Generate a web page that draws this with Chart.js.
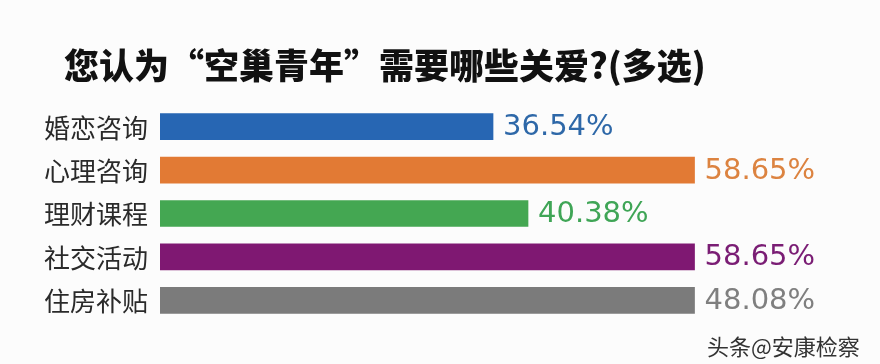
<!DOCTYPE html>
<html><head><meta charset="utf-8">
<script src="https://cdn.jsdelivr.net/npm/chart.js@4.4.1/dist/chart.umd.min.js"></script>
<style>html,body{margin:0;padding:0;background:#fcfcfc;}#wrap{width:880px;height:364px;}</style>
</head><body><div id="wrap"><canvas id="c" width="880" height="364"></canvas></div>
<script>
const titleText = '您认为“空巢青年”需要哪些关爱?(多选)';
const categories = ['婚恋咨询', '心理咨询', '理财课程', '社交活动', '住房补贴'];
// percentages printed next to the bars
const percentages = [36.54, 58.65, 40.38, 58.65, 48.08];
// bar lengths as drawn in the picture (the grey bar is drawn as long as the 58.65% bars)
const barLengths = [36.54, 58.65, 40.38, 58.65, 58.65];
const barColors = ['#2766b3', '#e27a34', '#44a752', '#7f1872', '#7b7b7b'];
const textColors = ['#2e68a8', '#dc8340', '#3fa556', '#7a1d74', '#7f7f7f'];
const watermark = '头条@安康检察';

const textPlugin = {
  id: 'texts',
  afterDraw(chart) {
    const ctx = chart.ctx;
    const meta = chart.getDatasetMeta(0);
    ctx.save();
    // title
    ctx.fillStyle = '#111';
    ctx.textBaseline = 'middle';
    ctx.textAlign = 'left';
    ctx.font = '900 35px "Noto Sans CJK SC"';
    ctx.fillText(titleText, 64, 66);
    // category labels
    ctx.font = '26px "Noto Sans CJK SC"';
    ctx.fillStyle = '#2a2a2a';
    ctx.textAlign = 'right';
    meta.data.forEach((bar, i) => {
      ctx.fillText(categories[i], 148, bar.y + 1);
    });
    // value labels
    ctx.textAlign = 'left';
    ctx.font = '29px "DejaVu Sans"';
    meta.data.forEach((bar, i) => {
      ctx.fillStyle = textColors[i];
      ctx.fillText(percentages[i].toFixed(2) + '%', bar.x + 10, bar.y + 1);
    });
    // watermark
    ctx.font = '22px "Noto Sans CJK SC"';
    ctx.fillStyle = '#333';
    ctx.textAlign = 'left';
    ctx.fillText(watermark, 707, 347);
    ctx.restore();
  }
};

new Chart(document.getElementById('c'), {
  type: 'bar',
  data: {
    labels: categories,
    datasets: [{
      data: barLengths,
      backgroundColor: barColors,
      borderWidth: 0,
      barThickness: 26
    }]
  },
  options: {
    indexAxis: 'y',
    responsive: false,
    animation: false,
    layout: { padding: { left: 160, top: 105, bottom: 42, right: 0 } },
    plugins: { legend: { display: false }, tooltip: { enabled: false } },
    scales: {
      x: { display: false, min: 0, max: 79 },
      y: { display: false }
    }
  },
  plugins: [textPlugin]
});
</script></body></html>
